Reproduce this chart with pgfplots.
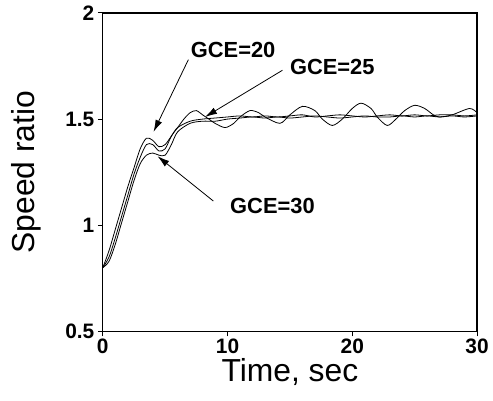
\documentclass[border=0pt]{standalone}
\usepackage{fontspec}
\setmainfont{Liberation Sans}
\usepackage{pgfplots}
\pgfplotsset{compat=1.18}
\usetikzlibrary{arrows.meta}

\begin{document}
\begin{tikzpicture}
\useasboundingbox (-103bp,-69bp) rectangle (391bp,332bp);
\begin{axis}[
  at={(0,0)}, anchor=south west,
  scale only axis, width=375bp, height=319bp,
  xmin=0, xmax=30, ymin=0.5, ymax=2,
  xtick={0,10,20,30}, ytick={0.5,1,1.5,2},
  yticklabels={0.5,1,1.5,2},
  tick align=outside, major tick length=5bp,
  xtick pos=bottom, ytick pos=left,
  axis line style={line width=1.1pt},
  major tick style={line width=1pt,black},
  /pgf/number format/assume math mode=true,
  ticklabel style={font=\fontsize{21}{21}\selectfont\bfseries},
  xticklabel style={yshift=1bp},
  xlabel={Time, sec}, ylabel={Speed ratio},
  xlabel style={at={(axis description cs:0.5,-0.128)},anchor=center,font=\fontsize{32}{32}\selectfont},
  ylabel style={at={(axis description cs:-0.205,0.5)},anchor=center,font=\fontsize{32}{32}\selectfont},
  clip=false,
]
% GCE=20
\addplot[black,line width=0.8pt,smooth] coordinates {
 (0,0.80) (0.5,0.88) (1,0.98) (1.5,1.08) (2,1.18) (2.5,1.27) (3,1.36) (3.5,1.41)
 (4,1.40) (4.5,1.37) (5,1.38) (5.5,1.42) (6,1.46) (7,1.49) (8,1.50) (9,1.505)
 (10,1.51) (11,1.515) (12,1.51) (13,1.515) (14,1.51) (15,1.515) (16,1.52) (17,1.51)
 (18,1.515) (19,1.52) (20,1.515) (21,1.51) (22,1.515) (23,1.52) (24,1.515) (25,1.52)
 (26,1.515) (27,1.52) (28,1.52) (29,1.515) (30,1.52)};
% GCE=25
\addplot[black,line width=0.8pt,smooth] coordinates {
 (0,0.80) (0.5,0.85) (1,0.94) (1.5,1.04) (2,1.14) (2.5,1.24) (3,1.32) (3.5,1.38)
 (4,1.38) (4.5,1.35) (5,1.36) (5.5,1.42) (6,1.46) (6.5,1.50) (7,1.53) (7.5,1.54)
 (8,1.52) (8.5,1.50) (9,1.48) (9.8,1.46) (10.5,1.48) (11,1.51) (11.8,1.54) (12.5,1.53)
 (13,1.51) (14.2,1.48) (15,1.52) (16,1.56) (17,1.54) (17.6,1.50) (18.4,1.47) (19.2,1.50)
 (20,1.55) (20.7,1.575) (21.5,1.55) (22,1.51) (22.8,1.47) (23.5,1.50) (24.2,1.54) (25,1.565)
 (25.8,1.55) (26.5,1.52) (27,1.51) (28,1.52) (29.4,1.55) (30,1.53)};
% GCE=30
\addplot[black,line width=0.8pt,smooth] coordinates {
 (0,0.80) (0.5,0.83) (1,0.91) (1.5,1.01) (2,1.11) (2.5,1.21) (3,1.29) (3.5,1.33)
 (4,1.34) (4.5,1.33) (5,1.33) (5.5,1.38) (6,1.44) (7,1.48) (8,1.49) (9,1.49)
 (10,1.50) (11,1.505) (12,1.51) (13,1.505) (14,1.51) (15,1.505) (16,1.51) (17,1.515)
 (18,1.51) (19,1.505) (20,1.51) (21,1.515) (22,1.51) (23,1.51) (24,1.515) (25,1.51)
 (26,1.515) (27,1.51) (28,1.515) (29,1.51) (30,1.515)};
% annotations
\node[font=\fontsize{22}{22}\selectfont\bfseries] at (axis cs:10.45,1.827) {GCE=20};
\node[font=\fontsize{22}{22}\selectfont\bfseries] at (axis cs:18.4,1.747) {GCE=25};
\node[font=\fontsize{22}{22}\selectfont\bfseries] at (axis cs:13.6,1.09) {GCE=30};
\draw[line width=0.8pt,-{Latex[length=12bp,width=7bp]}] (axis cs:6.86,1.78) -- (axis cs:4.07,1.44);
\draw[line width=0.8pt,-{Latex[length=12bp,width=7bp]}] (axis cs:14.4,1.73) -- (axis cs:8.2,1.51);
\draw[line width=0.8pt,-{Latex[length=12bp,width=7bp]}] (axis cs:8.86,1.114) -- (axis cs:4.39,1.325);
\end{axis}
\end{tikzpicture}
\end{document}
